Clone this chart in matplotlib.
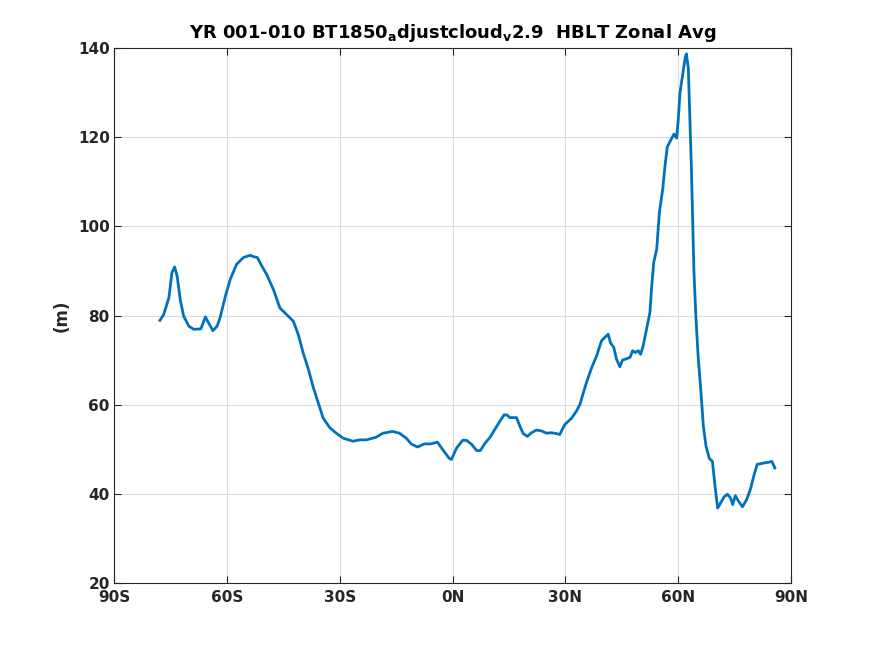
import matplotlib
matplotlib.use("Agg")
import matplotlib.pyplot as plt

lat = [-77.8, -76.8, -75.4, -74.6, -73.9, -73.2, -72.4, -71.5, -70.1, -68.8, -66.9, -65.7, -64.9,
       -63.7, -62.6, -61.8, -60.4, -59.1, -57.4, -55.6, -53.8, -52.9, -51.9, -50.7, -49.4, -47.6,
       -45.9, -44.1, -42.3, -41.0, -39.7, -38.3, -37.1, -35.7, -34.4, -32.6, -30.9, -29.1, -26.5,
       -24.7, -22.9, -20.3, -18.5, -15.9, -14.1, -12.3, -11.0, -9.3, -7.5, -5.8, -4.0, -2.6, -0.9,
       -0.3, 1.1, 2.7, 3.7, 5.1, 6.4, 7.4, 8.6, 9.9, 11.3, 12.6, 13.7, 14.5, 15.2, 17.0, 17.9, 18.8,
       19.9, 21.0, 22.3, 23.7, 25.0, 26.3, 27.7, 28.5, 29.9, 31.6, 33.0, 33.9, 34.8, 35.6, 37.0,
       38.3, 39.6, 40.5, 41.4, 42.0, 42.9, 43.6, 44.5, 45.2, 46.3, 47.2, 47.9, 48.6, 49.4, 50.0,
       50.7, 51.6, 52.5, 52.9, 53.5, 54.3, 55.0, 55.9, 56.5, 57.1, 58.0, 58.9, 59.6, 60.0, 60.5,
       61.3, 61.9, 62.2, 62.7, 63.1, 63.5, 63.8, 64.2, 64.7, 65.3, 66.0, 66.7, 67.4, 68.3, 69.1,
       69.8, 70.5, 71.3, 72.2, 73.1, 73.9, 74.5, 75.2, 76.0, 77.1, 78.2, 79.2, 80.1, 81.0, 82.2,
       83.3, 84.2, 84.9, 85.7]
hblt = [78.9, 80.2, 84.0, 89.6, 90.9, 88.8, 83.6, 79.9, 77.6, 76.9, 77.0, 79.7, 78.4,
        76.6, 77.6, 79.5, 84.3, 88.1, 91.5, 93.0, 93.5, 93.2, 93.0, 91.1, 89.2, 85.8,
        81.7, 80.2, 78.7, 75.7, 71.6, 67.9, 64.1, 60.4, 57.0, 54.8, 53.6, 52.5, 51.8,
        52.1, 52.1, 52.7, 53.6, 54.0, 53.6, 52.5, 51.2, 50.5, 51.2, 51.2, 51.6, 49.9, 48.0,
        47.7, 50.3, 52.0, 52.0, 51.1, 49.7, 49.7, 51.3, 52.6, 54.5, 56.3, 57.7, 57.7, 57.1, 57.1, 55.2, 53.5,
        52.9, 53.7, 54.3, 54.1, 53.6, 53.7, 53.5, 53.3, 55.6, 56.9, 58.6, 60.1, 62.7, 64.9, 68.3,
        70.9, 74.3, 75.1, 75.8, 73.9, 72.8, 70.2, 68.5, 70.0, 70.3, 70.6, 72.1, 71.7, 72.1, 71.3,
        73.2, 76.9, 80.7, 85.9, 91.9, 94.9, 103.1, 108.4, 113.6, 117.8, 119.3, 120.7, 119.8, 123.7, 130.1,
        134.6, 138.0, 138.7, 135.4, 124.1, 113.6, 103.1, 89.7, 79.9, 70.9, 63.4, 55.2, 50.7, 47.9, 47.3,
        41.7, 36.8, 38.0, 39.3, 39.9, 39.1, 37.6, 39.6, 38.4, 37.1, 38.7, 41.0, 44.0, 46.6, 46.8,
        47.0, 47.1, 47.3, 45.8]

xticks = [-90, -60, -30, 0, 30, 60, 90]
xticklabels = ["90S", "60S", "30S", "0N", "30N", "60N", "90N"]
yticks = [20, 40, 60, 80, 100, 120, 140]

plt.rcParams['font.family'] = ['DejaVu Sans']
plt.rcParams['mathtext.fontset'] = 'dejavusans'

fig = plt.figure(figsize=(8.75, 6.56), dpi=100)
ax = fig.add_axes([0.1303, 0.1113, 0.7737, 0.8155])
ax.plot(lat, hblt, color='#0072BD', linewidth=2.0)
ax.set_xlim(-90, 90)
ax.set_ylim(20, 140)
ax.set_xticks(xticks)
ax.set_xticklabels(xticklabels)
ax.set_yticks(yticks)
ax.grid(True, color='#dcdcdc', linewidth=0.8)
ax.set_axisbelow(True)
ax.tick_params(direction='in', top=True, right=True, length=5, width=0.8,
               colors='#262626', labelsize=11)
ax.tick_params(axis='x', pad=5)
ax.tick_params(axis='y', pad=3)
for lab in ax.get_xticklabels() + ax.get_yticklabels():
    lab.set_fontweight('bold')
for s in ax.spines.values():
    s.set_color('#262626')
    s.set_linewidth(0.8)
ax.set_ylabel('(m)', fontsize=12, fontweight='bold', color='#262626', labelpad=5)
ax.set_title(r'YR 001-010 BT1850$_\mathbf{a}$djustcloud$_\mathbf{v}$2.9  HBLT Zonal Avg',
             fontsize=13, fontweight='bold', color='black', pad=7)
fig.savefig('out.png', dpi=100)
